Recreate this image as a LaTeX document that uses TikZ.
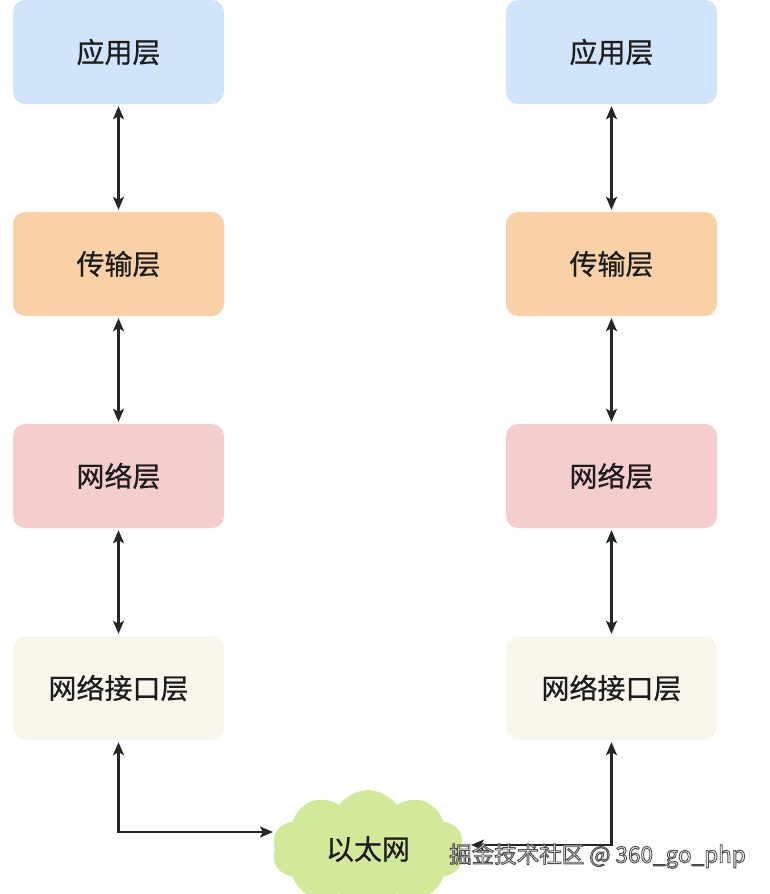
\documentclass[tikz,border=0pt]{standalone}
\usepackage{fontspec}
\setmainfont{Noto Sans CJK SC}
\newfontfamily\cjk[FakeBold=0.6]{Noto Sans CJK SC}
\newfontfamily\cjkwm{Noto Sans CJK SC}
\usetikzlibrary{shapes.symbols,arrows.meta}
\definecolor{appblue}{HTML}{D2E4FB}
\definecolor{tranorange}{HTML}{F8D2A6}
\definecolor{netpink}{HTML}{F6CDCD}
\definecolor{ifbeige}{HTML}{F9F7EC}
\definecolor{cloudgreen}{HTML}{D3E99A}
\definecolor{txt}{HTML}{1C1C1C}
\tikzset{
  layer/.style={rounded corners=12, minimum width=211, minimum height=104, inner sep=0, text=txt, font=\cjk\fontsize{28}{30}\selectfont},
  link/.style={draw=black!85, line width=2.1pt, {Stealth[length=13pt,width=11pt,inset=3pt]}-{Stealth[length=13pt,width=11pt,inset=3pt]}},
  wm/.style={font=\cjkwm\fontsize{22.5}{26}\selectfont, anchor=west, inner sep=0}
}
\newcommand{\outlinedtext}[1]{{\color{white}\special{pdf:code 0.3 G 2 Tr 0.9 w}#1\special{pdf:code 0 Tr 0 G}}}
\begin{document}
\begin{tikzpicture}[x=1pt,y=-1pt]
\useasboundingbox (0,0) rectangle (770,894);
\clip (0,0) rectangle (770,894);
% left stack
\node[layer, fill=appblue]    (a1) at (118.5,52)  {应用层};
\node[layer, fill=tranorange] (t1) at (118.5,264) {传输层};
\node[layer, fill=netpink]    (n1) at (118.5,476) {网络层};
\node[layer, fill=ifbeige]    (i1) at (118.5,688) {网络接口层};
% right stack
\node[layer, fill=appblue]    (a2) at (611.5,52)  {应用层};
\node[layer, fill=tranorange] (t2) at (611.5,264) {传输层};
\node[layer, fill=netpink]    (n2) at (611.5,476) {网络层};
\node[layer, fill=ifbeige]    (i2) at (611.5,688) {网络接口层};
% cloud
\node[cloud, cloud puffs=10, cloud puff arc=110, aspect=1.6, fill=cloudgreen, minimum width=192, minimum height=118, inner sep=0, text=txt, font=\cjk\fontsize{28}{30}\selectfont] (eth) at (368,849) {以太网};
\coordinate (cl) at (273,832);
\coordinate (cr) at (471,845);
% links
\draw[link] ([yshift=-2]a1.south) -- ([yshift=2]t1.north);
\draw[link] ([yshift=-2]t1.south) -- ([yshift=2]n1.north);
\draw[link] ([yshift=-2]n1.south) -- ([yshift=2]i1.north);
\draw[link] ([yshift=-2]a2.south) -- ([yshift=2]t2.north);
\draw[link] ([yshift=-2]t2.south) -- ([yshift=2]n2.north);
\draw[link] ([yshift=-2]n2.south) -- ([yshift=2]i2.north);
\draw[link] ([yshift=-2]i1.south) |- (cl);
\draw[link] ([yshift=-2]i2.south) |- (cr);
% watermark
\node[wm] (wmk) at (449,856) {\outlinedtext{掘金技术社区 @ 360\_go\_php}};
\end{tikzpicture}
\end{document}
